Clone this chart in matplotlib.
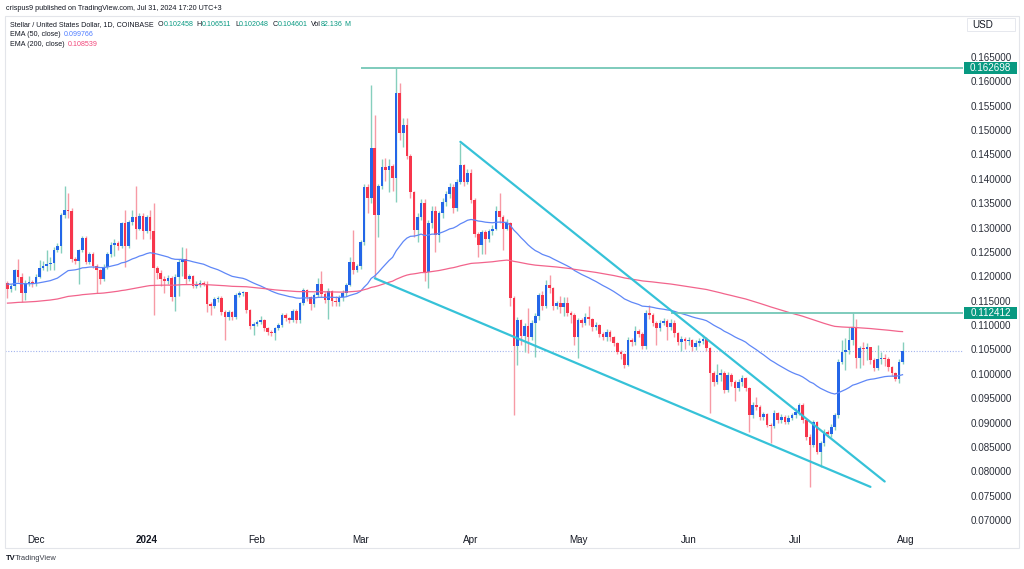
import numpy as np
import pandas as pd
import matplotlib
matplotlib.use("Agg")
import matplotlib.pyplot as plt
import matplotlib.dates as mdates
from matplotlib.patches import Rectangle
from matplotlib.transforms import blended_transform_factory

plt.rcParams["font.family"] = ["Liberation Sans", "DejaVu Sans"]

# XLM/USD daily candles, 2023-11-23 .. 2024-07-31
start_date = "2023-11-23"
first_open = 0.1186
closes = [
    0.1174, 0.1180, 0.1213, 0.1199, 0.1166, 0.1186, 0.1189, 0.1184, 0.1199, 0.1218,
    0.1222, 0.1225, 0.1227, 0.1255, 0.1262, 0.1326, 0.1337, 0.1334, 0.1235, 0.1232,
    0.1254, 0.1278, 0.1230, 0.1246, 0.1222, 0.1213, 0.1194, 0.1220, 0.1246, 0.1265,
    0.1268, 0.1262, 0.1309, 0.1262, 0.1311, 0.1322, 0.1298, 0.1324, 0.1292, 0.1321,
    0.1294, 0.1218, 0.1206, 0.1194, 0.1190, 0.1197, 0.1157, 0.1198, 0.1230, 0.1236,
    0.1194, 0.1200, 0.1180, 0.1184, 0.1187, 0.1185, 0.1144, 0.1140, 0.1153, 0.1156,
    0.1127, 0.1117, 0.1126, 0.1117, 0.1161, 0.1165, 0.1167, 0.1131, 0.1098, 0.1102,
    0.1106, 0.1110, 0.1093, 0.1086, 0.1083, 0.1093, 0.1100, 0.1121, 0.1114, 0.1110,
    0.1129, 0.1110, 0.1145, 0.1171, 0.1158, 0.1144, 0.1162, 0.1184, 0.1164, 0.1151,
    0.1170, 0.1150, 0.1148, 0.1157, 0.1166, 0.1182, 0.1230, 0.1213, 0.1221, 0.1271,
    0.1384, 0.1360, 0.1463, 0.1326, 0.1385, 0.1424, 0.1418, 0.1426, 0.1401, 0.1577,
    0.1495, 0.1511, 0.1446, 0.1372, 0.1295, 0.1322, 0.1350, 0.1208, 0.1310, 0.1333,
    0.1285, 0.1329, 0.1353, 0.1369, 0.1384, 0.1340, 0.1394, 0.1428, 0.1394, 0.1413,
    0.1357, 0.1287, 0.1264, 0.1290, 0.1276, 0.1292, 0.1298, 0.1335, 0.1321, 0.1298,
    0.1310, 0.1155, 0.1056, 0.1110, 0.1078, 0.1098, 0.1076, 0.1105, 0.1119, 0.1162,
    0.1139, 0.1182, 0.1175, 0.1139, 0.1145, 0.1138, 0.1146, 0.1124, 0.1121, 0.1076,
    0.1110, 0.1105, 0.1117, 0.1112, 0.1097, 0.1100, 0.1082, 0.1076, 0.1086, 0.1075,
    0.1064, 0.1045, 0.1040, 0.1018, 0.1069, 0.1065, 0.1088, 0.1082, 0.1056, 0.1125,
    0.1120, 0.1105, 0.1093, 0.1104, 0.1109, 0.1097, 0.1105, 0.1083, 0.1066, 0.1071,
    0.1067, 0.1070, 0.1054, 0.1064, 0.1068, 0.1072, 0.1052, 0.1001, 0.0984, 0.0998,
    0.1001, 0.0967, 0.0998, 0.0984, 0.0970, 0.0984, 0.0991, 0.0970, 0.0915, 0.0936,
    0.0931, 0.0911, 0.0917, 0.0895, 0.0893, 0.0919, 0.0905, 0.0912, 0.0902, 0.0910,
    0.0915, 0.0922, 0.0936, 0.0905, 0.0871, 0.0854, 0.0902, 0.0840, 0.0857, 0.0881,
    0.0876, 0.0891, 0.0915, 0.1025, 0.1045, 0.1049, 0.1069, 0.1097, 0.1032, 0.1052,
    0.1050, 0.1054, 0.1028, 0.1011, 0.1030, 0.1032, 0.1030, 0.1013, 0.1002, 0.0990,
    0.102458, 0.104601,
]
highs = [
    0.1190, 0.1185, 0.1216, 0.1235, 0.1206, 0.1192, 0.1200, 0.1192, 0.1205, 0.1233,
    0.1232, 0.1255, 0.1240, 0.1260, 0.1268, 0.1330, 0.1385, 0.1370, 0.1340, 0.1240,
    0.1256, 0.1282, 0.1282, 0.1250, 0.1250, 0.1225, 0.1215, 0.1225, 0.1250, 0.1270,
    0.1276, 0.1272, 0.1312, 0.1336, 0.1315, 0.1337, 0.1385, 0.1330, 0.1330, 0.1325,
    0.1336, 0.1351, 0.1222, 0.1212, 0.1200, 0.1203, 0.1200, 0.1205, 0.1236, 0.1261,
    0.1258, 0.1205, 0.1203, 0.1190, 0.1192, 0.1190, 0.1190, 0.1148, 0.1158, 0.1160,
    0.1160, 0.1130, 0.1130, 0.1128, 0.1165, 0.1170, 0.1170, 0.1168, 0.1133, 0.1106,
    0.1110, 0.1118, 0.1112, 0.1095, 0.1090, 0.1097, 0.1104, 0.1124, 0.1124, 0.1116,
    0.1132, 0.1132, 0.1148, 0.1175, 0.1174, 0.1160, 0.1166, 0.1196, 0.1210, 0.1168,
    0.1175, 0.1172, 0.1160, 0.1162, 0.1172, 0.1186, 0.1240, 0.1296, 0.1225, 0.1275,
    0.1390, 0.1390, 0.1592, 0.1530, 0.1390, 0.1440, 0.1442, 0.1440, 0.1430, 0.1627,
    0.1597, 0.1525, 0.1525, 0.1450, 0.1375, 0.1330, 0.1358, 0.1358, 0.1315, 0.1345,
    0.1345, 0.1335, 0.1360, 0.1375, 0.1392, 0.1390, 0.1400, 0.1474, 0.1430, 0.1420,
    0.1420, 0.1360, 0.1290, 0.1295, 0.1295, 0.1298, 0.1305, 0.1345, 0.1370, 0.1325,
    0.1318, 0.1312, 0.1160, 0.1116, 0.1112, 0.1104, 0.1135, 0.1110, 0.1124, 0.1165,
    0.1170, 0.1192, 0.1203, 0.1178, 0.1150, 0.1160, 0.1158, 0.1158, 0.1128, 0.1124,
    0.1115, 0.1115, 0.1125, 0.1140, 0.1115, 0.1106, 0.1102, 0.1085, 0.1092, 0.1090,
    0.1078, 0.1066, 0.1048, 0.1042, 0.1075, 0.1074, 0.1098, 0.1092, 0.1085, 0.1130,
    0.1141, 0.1124, 0.1108, 0.1110, 0.1115, 0.1112, 0.1112, 0.1110, 0.1086, 0.1078,
    0.1075, 0.1076, 0.1072, 0.1070, 0.1074, 0.1080, 0.1076, 0.1055, 0.1005, 0.1020,
    0.1010, 0.1005, 0.1003, 0.1001, 0.0988, 0.0990, 0.0997, 0.0994, 0.0972, 0.0942,
    0.0952, 0.0935, 0.0922, 0.0920, 0.0900, 0.0925, 0.0922, 0.0918, 0.0915, 0.0915,
    0.0920, 0.0930, 0.0940, 0.0940, 0.0908, 0.0876, 0.0906, 0.0904, 0.0862, 0.0886,
    0.0885, 0.0896, 0.0920, 0.1030, 0.1069, 0.1073, 0.1097, 0.1124, 0.1113, 0.1058,
    0.1066, 0.1063, 0.1055, 0.1032, 0.1059, 0.1045, 0.1040, 0.1035, 0.1016, 0.1004,
    0.1030, 0.106511,
]
lows = [
    0.1155, 0.1168, 0.1172, 0.1189, 0.1148, 0.1152, 0.1180, 0.1178, 0.1180, 0.1196,
    0.1212, 0.1210, 0.1212, 0.1213, 0.1250, 0.1247, 0.1320, 0.1320, 0.1230, 0.1225,
    0.1185, 0.1250, 0.1225, 0.1225, 0.1218, 0.1165, 0.1185, 0.1190, 0.1215, 0.1240,
    0.1241, 0.1255, 0.1258, 0.1220, 0.1258, 0.1305, 0.1276, 0.1295, 0.1276, 0.1288,
    0.1276, 0.1121, 0.1195, 0.1180, 0.1165, 0.1185, 0.1150, 0.1128, 0.1160, 0.1200,
    0.1185, 0.1190, 0.1175, 0.1176, 0.1178, 0.1180, 0.1127, 0.1120, 0.1136, 0.1148,
    0.1120, 0.1069, 0.1110, 0.1110, 0.1112, 0.1158, 0.1160, 0.1125, 0.1092, 0.1080,
    0.1098, 0.1103, 0.1088, 0.1080, 0.1078, 0.1069, 0.1090, 0.1096, 0.1108, 0.1104,
    0.1106, 0.1104, 0.1105, 0.1142, 0.1150, 0.1130, 0.1138, 0.1158, 0.1158, 0.1145,
    0.1112, 0.1140, 0.1140, 0.1140, 0.1150, 0.1160, 0.1180, 0.1205, 0.1208, 0.1215,
    0.1265, 0.1330, 0.1350, 0.1196, 0.1281, 0.1380, 0.1395, 0.1372, 0.1375, 0.1353,
    0.1480, 0.1466, 0.1440, 0.1360, 0.1280, 0.1270, 0.1315, 0.1190, 0.1175, 0.1300,
    0.1250, 0.1270, 0.1320, 0.1345, 0.1360, 0.1330, 0.1335, 0.1390, 0.1385, 0.1390,
    0.1350, 0.1280, 0.1240, 0.1245, 0.1245, 0.1270, 0.1285, 0.1295, 0.1310, 0.1255,
    0.1295, 0.1140, 0.0915, 0.1018, 0.1060, 0.1044, 0.1042, 0.1070, 0.1035, 0.1110,
    0.1130, 0.1135, 0.1165, 0.1130, 0.1132, 0.1125, 0.1118, 0.1118, 0.1105, 0.1059,
    0.1032, 0.1095, 0.1100, 0.1100, 0.1088, 0.1090, 0.1075, 0.1070, 0.1068, 0.1068,
    0.1058, 0.1040, 0.1030, 0.1012, 0.1015, 0.1058, 0.1060, 0.1076, 0.1050, 0.1050,
    0.1112, 0.1098, 0.1060, 0.1088, 0.1100, 0.1070, 0.1090, 0.1075, 0.1060, 0.1046,
    0.1050, 0.1060, 0.1046, 0.1048, 0.1058, 0.1062, 0.1046, 0.0919, 0.0975, 0.0980,
    0.0985, 0.0960, 0.0962, 0.0975, 0.0945, 0.0965, 0.0975, 0.0965, 0.0881, 0.0910,
    0.0925, 0.0905, 0.0905, 0.0890, 0.0858, 0.0888, 0.0900, 0.0900, 0.0896, 0.0898,
    0.0905, 0.0910, 0.0915, 0.0900, 0.0864, 0.0768, 0.0850, 0.0835, 0.0809, 0.0852,
    0.0870, 0.0870, 0.0885, 0.0910, 0.1020, 0.1008, 0.1040, 0.1060, 0.1012, 0.1011,
    0.1018, 0.1028, 0.1020, 0.1005, 0.1008, 0.1020, 0.1015, 0.1005, 0.0995, 0.0985,
    0.0982, 0.102048,
]
last_volume = "82.136"

# EMA starting values at the first visible bar, and the legend readings
ema50_seed = 0.1184
ema200_seed = 0.1145
ema50_label = "0.099766"
ema200_label = "0.108539"

# drawings
resistance_levels = [("2024-03-01", 0.162698), ("2024-05-27", 0.112412)]
wedge_upper = [("2024-03-29", 0.1476), ("2024-07-26", 0.0779)]
wedge_lower = [("2024-03-05", 0.1196), ("2024-07-22", 0.0768)]

month_ticks = pd.date_range("2023-12-01", "2024-08-01", freq="MS")
month_labels = ["Dec", "2024", "Feb", "Mar", "Apr", "May", "Jun", "Jul", "Aug"]
price_ticks = np.arange(0.070, 0.16501, 0.005)

UP_BODY = "#2466e8"
UP_WICK = "#86cfbd"
DOWN_BODY = "#f7364c"
DOWN_WICK = "#f79aa5"
TEXT = "#131722"
GREEN = "#089981"

closes = np.array(closes)
highs = np.array(highs)
lows = np.array(lows)
opens = np.concatenate([[first_open], closes[:-1]])
highs = np.maximum(highs, np.maximum(opens, closes))
lows = np.minimum(lows, np.minimum(opens, closes))
dates = pd.date_range(start_date, periods=len(closes), freq="D")
x = mdates.date2num(dates)


def ema(values, span, seed):
    alpha = 2.0 / (span + 1)
    out = [seed]
    for v in values[1:]:
        out.append(alpha * v + (1 - alpha) * out[-1])
    return np.array(out)


ema50 = ema(closes, 50, ema50_seed)
ema200 = ema(closes, 200, ema200_seed)

W, H = 1024, 569
fig = plt.figure(figsize=(W / 100, H / 100), dpi=100)
fig.patch.set_facecolor("white")

# pane in pixel coordinates: x 5..963, y 16..528
left, right, top, bottom = 5, 963, 16, 528
ax = fig.add_axes([left / W, 1 - bottom / H, (right - left) / W, (bottom - top) / H])
ax.set_facecolor("white")

px_per_day = 3.566
x0 = x[0]
ax.set_xlim(x0 + (left - 7.47) / px_per_day, x0 + (right - 7.47) / px_per_day)
px_per_unit = 4874.0
ax.set_ylim(0.070 - (bottom - 520) / px_per_unit, 0.165 + (57 - top) / px_per_unit)

up = closes >= opens
wick_colors = np.where(up, UP_WICK, DOWN_WICK)
body_colors = np.where(up, UP_BODY, DOWN_BODY)
ax.vlines(x, lows, highs, colors=wick_colors, linewidth=1.0, zorder=2)
body_h = np.maximum(np.abs(closes - opens), 0.00018)
ax.bar(x, body_h, bottom=np.minimum(opens, closes), width=0.74,
       color=body_colors, linewidth=0, zorder=3)

ax.plot(x, ema50, color="#5f87f7", linewidth=0.9, zorder=4)
ax.plot(x, ema200, color="#f2648c", linewidth=0.9, zorder=4)

# current price dotted line
ax.axhline(closes[-1], color="#a3b3ee", linewidth=0.8, linestyle=(0, (1, 1.5)), zorder=1)

for d, level in resistance_levels:
    ax.plot([mdates.date2num(pd.Timestamp(d)), ax.get_xlim()[1]], [level, level],
            color="#74c7b6", linewidth=1.3, zorder=5, solid_capstyle="butt")

for seg in (wedge_upper, wedge_lower):
    xs = [mdates.date2num(pd.Timestamp(d)) for d, _ in seg]
    ys = [v for _, v in seg]
    ax.plot(xs, ys, color="#36c2d8", linewidth=1.6, zorder=6, solid_capstyle="round")

# axes styling
for s in ax.spines.values():
    s.set_visible(False)
ax.set_xticks(mdates.date2num(month_ticks))
ax.set_xticklabels(month_labels)
ax.tick_params(axis="x", length=0, pad=5, labelsize=7.1, labelcolor=TEXT)
ax.get_xticklabels()[1].set_fontweight("bold")
ax.yaxis.tick_right()
ax.set_yticks(price_ticks)
ax.set_yticklabels([f"{v:.6f}" for v in price_ticks])
ax.tick_params(axis="y", length=0, pad=5.5, labelsize=7.1, labelcolor="#2a2e39")

# price labels on the axis
trans = blended_transform_factory(fig.transFigure, ax.transData)
box_h = 12 / px_per_unit
for _, level in resistance_levels:
    ax.add_patch(Rectangle((964 / W, level - box_h / 2), 53 / W, box_h, transform=trans,
                           facecolor=GREEN, edgecolor="none", clip_on=False, zorder=10))
    ax.text(990.5 / W, level, f"{level:.6f}", transform=trans, color="white",
            fontsize=7.1, ha="center", va="center", zorder=11)

# outer frame, USD box
fig.patches.append(Rectangle((5 / W, 1 - 548 / H), 1014 / W, 532 / H, transform=fig.transFigure,
                             facecolor="none", edgecolor="#e3e5ea", linewidth=0.8))
fig.patches.append(Rectangle((967 / W, 1 - 31 / H), 48 / W, 13 / H, transform=fig.transFigure,
                             facecolor="white", edgecolor="#e6e8ee", linewidth=0.7))
fig.text(972 / W, 1 - 24.5 / H, "USD", fontsize=7.1, color=TEXT, va="center", ha="left")

# header and legend
fig.text(6 / W, 1 - 9 / H, "crispus9 published on TradingView.com, Jul 31, 2024 17:20 UTC+3",
         fontsize=5.2, color=TEXT, va="center", ha="left")


def chain(parts, x_px, y_px, size=5.1):
    prev = fig.text(x_px / W, 1 - y_px / H, parts[0][0], color=parts[0][1], fontsize=size,
                    va="center", ha="left")
    for s, c, gap in parts[1:]:
        prev = ax.annotate(s, xy=(1, 0.5), xycoords=prev, xytext=(gap, 0),
                           textcoords="offset points", color=c, fontsize=size,
                           va="center", ha="left", annotation_clip=False)


chain([("Stellar / United States Dollar, 1D, COINBASE", TEXT, 0),
       ("O", TEXT, 3), (f"{opens[-1]:.6f}", GREEN, 0),
       ("H", TEXT, 2.5), (f"{highs[-1]:.6f}", GREEN, 0),
       ("L", TEXT, 2.5), (f"{lows[-1]:.6f}", GREEN, 0),
       ("C", TEXT, 2.5), (f"{closes[-1]:.6f}", GREEN, 0),
       ("Vol", TEXT, 2.5), (last_volume, GREEN, 0), ("M", GREEN, 1)], 10, 25)
chain([("EMA (50, close)", TEXT, 0), (ema50_label, "#4f7dff", 2.5)], 10, 34.5)
chain([("EMA (200, close)", TEXT, 0), (ema200_label, "#f2467a", 2.5)], 10, 44)

fig.text(6 / W, 1 - 559 / H, "TV", fontsize=5.5, fontweight="bold", color=TEXT, va="center")
fig.text(15 / W, 1 - 559 / H, "TradingView", fontsize=5.4, color="#3a3e48", va="center")

fig.savefig("out.png", dpi=100, facecolor="white")
